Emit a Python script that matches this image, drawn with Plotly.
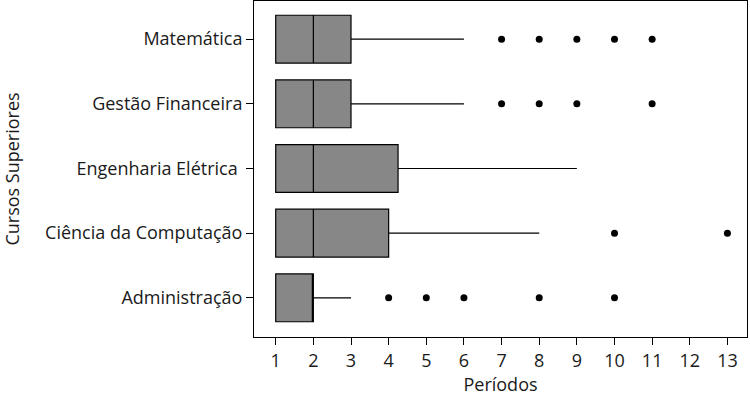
import plotly.graph_objects as go

cursos = ["Administração", "Ciência da Computação", "Engenharia Elétrica\u00a0", "Gestão Financeira", "Matemática"]
q1 = [1, 1, 1, 1, 1]
mediana = [2, 2, 2, 2, 2]
q3 = [2, 4, 4.25, 3, 3]
lim_inf = [1, 1, 1, 1, 1]
lim_sup = [3, 8, 9, 6, 6]
outliers_adm = [4, 5, 6, 8, 10]
outliers_cc = [10, 13]
outliers_ee = []
outliers_gf = [7, 8, 9, 11]
outliers_mat = [7, 8, 9, 10, 11]
ticks_x = list(range(1, 14))

outliers = [outliers_adm, outliers_cc, outliers_ee, outliers_gf, outliers_mat]

fig = go.Figure()
fig.add_trace(go.Box(
    y=cursos, q1=q1, median=mediana, q3=q3,
    lowerfence=lim_inf, upperfence=lim_sup,
    orientation="h", width=0.74, whiskerwidth=0,
    fillcolor="#878787", line=dict(color="black", width=1.2),
    boxpoints=False, showlegend=False, hoverinfo="skip",
))
ox, oy = [], []
for c, vals in zip(cursos, outliers):
    for v in vals:
        ox.append(v)
        oy.append(c)
fig.add_trace(go.Scatter(
    x=ox, y=oy, mode="markers",
    marker=dict(color="black", size=7),
    showlegend=False, hoverinfo="skip",
))

font = "Open Sans, Noto Sans, sans-serif"
fs = 18
fig.update_layout(
    width=750, height=396,
    margin=dict(l=254, r=3, t=1, b=59),
    paper_bgcolor="white", plot_bgcolor="white",
    font=dict(family=font, size=fs, color="#1a1a1a"),
)
fig.update_xaxes(
    range=[0.423, 13.52], tickvals=ticks_x, ticktext=[str(t) for t in ticks_x],
    showgrid=False, zeroline=False, showline=True, mirror=True,
    linecolor="black", linewidth=1, ticks="outside", ticklen=7,
    tickcolor="black", tickfont=dict(size=fs), automargin=False,
    title=dict(text="Períodos", font=dict(size=fs), standoff=4),
)
fig.update_yaxes(
    type="category", categoryorder="array", categoryarray=cursos,
    range=[-0.606, 4.59],
    showgrid=False, zeroline=False, showline=True, mirror=True,
    linecolor="black", linewidth=1, ticks="outside", ticklen=7,
    tickcolor="black", tickfont=dict(size=fs), automargin=False,
    title=dict(text="Cursos Superiores", font=dict(size=fs), standoff=21),
)
fig.write_html("out.html", config={"displayModeBar": False},
               post_script="document.body.style.margin='0';")
